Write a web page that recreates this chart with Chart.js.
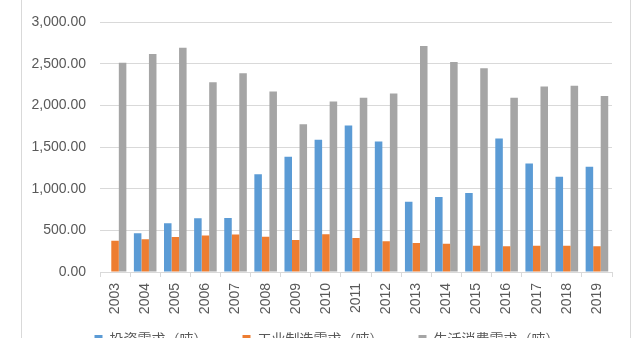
<!DOCTYPE html>
<html>
<head>
<meta charset="utf-8">
<script src="https://cdn.jsdelivr.net/npm/chart.js@4/dist/chart.umd.min.js"></script>
<style>
  html, body { margin: 0; padding: 0; background: #fff; overflow: hidden; }
  #frame {
    position: absolute; left: 21px; top: 0;
    width: 608px; height: 379px;
    border-left: 1px solid #d9d9d9; border-right: 1px solid #d9d9d9;
  }
  #demandChart { display: block; }
</style>
</head>
<body>
<div id="frame"><canvas id="demandChart" width="608" height="379"></canvas></div>
<script>
// Chart setup
const years = ["2003", "2004", "2005", "2006", "2007", "2008", "2009", "2010", "2011",
  "2012", "2013", "2014", "2015", "2016", "2017", "2018", "2019"];
const investValues = [0, 465, 585, 645, 650, 1175, 1385, 1590, 1760, 1570, 845, 900, 950, 1605, 1305, 1145, 1265];
const industryValues = [375, 395, 420, 440, 450, 425, 385, 455, 410, 370, 350, 340, 315, 310, 315, 315, 310];
const livingValues = [2515, 2620, 2695, 2280, 2390, 2170, 1775, 2050, 2095, 2145, 2715, 2525, 2450, 2095, 2230, 2240, 2115];
const seriesNames = ["投资需求（吨）", "工业制造需求（吨）", "生活消费需求（吨）"];
const seriesColors = ["#5b9bd5", "#ed7d31", "#a5a5a5"];
const yTicks = [0, 500, 1000, 1500, 2000, 2500, 3000];

const gridColor = "#d9d9d9";
const textColor = "#595959";

// legend sits closer to the year labels than the layout would put it
const legendNudge = {
  id: 'legendNudge',
  afterLayout: function (chart) {
    const lg = chart.legend;
    if (!lg) return;
    lg.top -= 23; lg.bottom -= 23;
    lg.left += 10; lg.right += 10;
  }
};

const data = {
  labels: years,
  datasets: [investValues, industryValues, livingValues].map(function (vals, i) {
    return {
      label: seriesNames[i],
      data: vals,
      backgroundColor: seriesColors[i],
      borderWidth: 0,
      barPercentage: 1.0,
      categoryPercentage: 0.75
    };
  })
};

const config = {
  type: 'bar',
  data: data,
  plugins: [legendNudge],
  options: {
    responsive: false,
    animation: false,
    layout: { padding: { top: 16, right: 18, left: 0, bottom: 0 } },
    plugins: {
      tooltip: { enabled: false },
      legend: {
        position: 'bottom',
        labels: {
          boxWidth: 8,
          boxHeight: 8,
          padding: 35,
          color: textColor,
          font: { family: "'Noto Sans CJK SC', sans-serif", size: 14 }
        }
      }
    },
    scales: {
      x: {
        grid: {
          display: true,
          drawOnChartArea: false,
          drawTicks: true,
          tickLength: 5,
          color: gridColor,
          offset: true
        },
        border: { display: true, color: gridColor },
        ticks: {
          minRotation: 90,
          maxRotation: 90,
          padding: 6,
          color: textColor,
          font: { family: "'Liberation Sans', sans-serif", size: 14 }
        },
        afterFit: function (scale) { scale.height = 48; }
      },
      y: {
        min: 0,
        max: 3000,
        afterBuildTicks: function (scale) {
          scale.ticks = yTicks.map(function (v) { return { value: v }; });
        },
        grid: { color: gridColor, drawTicks: false },
        border: { display: false },
        ticks: {
          padding: 14,
          color: textColor,
          font: { family: "'Liberation Sans', sans-serif", size: 14 },
          callback: function (v) {
            return Number(v).toLocaleString('en-US', { minimumFractionDigits: 2, maximumFractionDigits: 2 });
          }
        },
        afterFit: function (scale) { scale.width = 78; }
      }
    }
  }
};

const demandChart = new Chart(document.getElementById('demandChart'), config);
</script>
</body>
</html>
